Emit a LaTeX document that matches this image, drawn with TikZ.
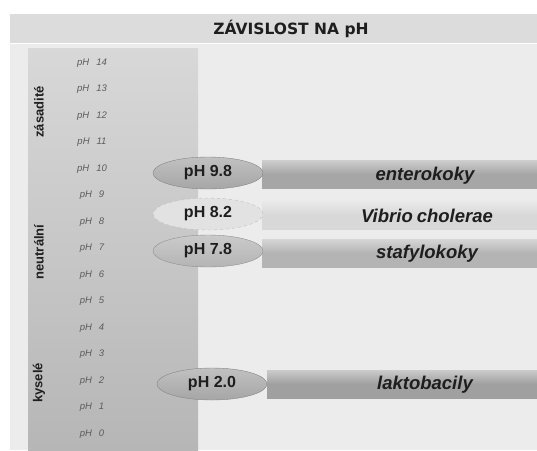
\documentclass[tikz,border=0pt]{standalone}
\usepackage{fontspec}
\setmainfont{Liberation Sans}
\newfontfamily\headfont{DejaVu Sans}
\usetikzlibrary{shapes.geometric}

\definecolor{panelbg}{HTML}{ECECEC}
\definecolor{headbg}{HTML}{DCDCDC}
\definecolor{scaletop}{HTML}{D8D8D8}
\definecolor{scalebot}{HTML}{B6B6B6}
\definecolor{ticktext}{HTML}{5C5C5C}
\definecolor{inktext}{HTML}{1E1E1E}
% fills of bars and ovals
\definecolor{toneA}{HTML}{A6A6A6}
\definecolor{toneB}{HTML}{D8D8D8}
\definecolor{toneC}{HTML}{B4B4B4}
\definecolor{toneD}{HTML}{A0A0A0}

\tikzset{
  tick/.style={font=\fontsize{9.5}{10}\selectfont\itshape, text=ticktext, anchor=center},
  zone/.style={font=\fontsize{13}{14}\selectfont\bfseries, text=inktext, rotate=90, anchor=center},
  phoval/.style={ellipse, minimum width=110pt, minimum height=32pt, inner sep=0pt,
    draw=#1!80!black, line width=0.4pt, top color=#1!70!white, bottom color=#1,
    font=\fontsize{16}{17}\selectfont\bfseries, text=inktext},
  barbox/.style={rectangle, minimum height=28pt, inner sep=0pt, anchor=west,
    top color=#1!55!white, bottom color=#1, middle color=#1},
  bartext/.style={font=\fontsize{18.5}{20}\selectfont\bfseries\itshape, text=inktext, anchor=center}
}

\begin{document}
\begin{tikzpicture}[x=1pt, y=-1pt]
  \useasboundingbox (0,0) rectangle (537,450);
  \fill[white] (0,0) rectangle (537,450);

  % panel and title strip
  \fill[panelbg] (10,44) rectangle (537,450);
  \fill[headbg] (10,14) rectangle (537,43);
  \node[font=\headfont\fontsize{15.5}{16}\selectfont\bfseries, text=inktext] (title) at (291,29) {ZÁVISLOST NA pH};

  % pH scale column
  \shade[top color=scaletop, bottom color=scalebot] (28,48) rectangle (198,450);
  \foreach \v [count=\i from 0] in {14,13,...,0} {
    \node[tick] (t\v) at (92,{63+26.5*\i}) {pH\hspace{7pt}\v};
  }
  \node[zone] (zas) at (39,112) {zásadité};
  \node[zone] (neu) at (39,252) {neutrální};
  \node[zone] (kys) at (39,383) {kyselé};

  % bars
  \node[barbox=toneA, minimum width=275pt] (b1) at (262,174) {};
  \node[barbox=toneB, minimum width=275pt] (b2) at (262,215) {};
  \node[barbox=toneC, minimum width=275pt] (b3) at (262,253) {};
  \node[barbox=toneD, minimum width=270pt] (b4) at (267,384) {};
  \node[bartext] (l1) at (425,176) {enterokoky};
  \node[bartext] (l2) at (427,216) {Vibrio\hspace{4pt}cholerae};
  \node[bartext] (l3) at (427,254) {stafylokoky};
  \node[bartext] (l4) at (425,385) {laktobacily};

  % pH ovals
  \node[phoval=toneA] (o1) at (208,173) {pH 9.8};
  \node[ellipse, minimum width=110pt, minimum height=32pt, inner sep=0pt,
        fill=toneB!75!white, draw=gray!50, dashed, line width=0.4pt,
        font=\fontsize{16}{17}\selectfont\bfseries, text=inktext] (o2) at (208,214) {pH 8.2};
  \node[phoval=toneC] (o3) at (208,251) {pH 7.8};
  \node[phoval=toneA] (o4) at (212,384) {pH 2.0};
\end{tikzpicture}
\end{document}
